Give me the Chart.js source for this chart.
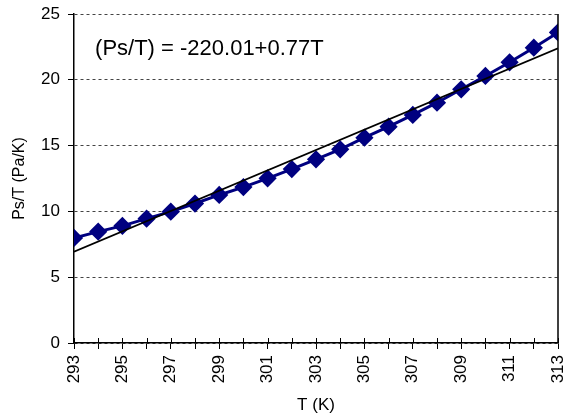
<!DOCTYPE html>
<html>
<head>
<meta charset="utf-8">
<script src="https://cdn.jsdelivr.net/npm/chart.js@4"></script>
<style>
  html, body { margin: 0; padding: 0; background: #fff; }
  #wrap { width: 571px; height: 418px; }
</style>
</head>
<body>
<div id="wrap"><canvas id="chart"></canvas></div>
<script>
// temperatures (K)
const temps = [293, 294, 295, 296, 297, 298, 299, 300, 301, 302, 303,
               304, 305, 306, 307, 308, 309, 310, 311, 312, 313];
// measured Ps/T (Pa/K)
const psOverT = [7.98, 8.46, 8.9, 9.45, 9.98, 10.6, 11.25, 11.85, 12.51, 13.22, 13.96,
                 14.72, 15.6, 16.44, 17.33, 18.26, 19.28, 20.29, 21.33, 22.44, 23.6];
// linear fit endpoints
const fitT = [293, 313];
const fitY = [6.94, 22.39];
const fitLabel = '(Ps/T) = -220.01+0.77T';

const FONT = "'Liberation Sans', Arial, sans-serif";

// right frame line, inward half of x ticks and the equation text
const extras = {
  id: 'extras',
  afterDatasetsDraw(chart) {
    const { ctx, chartArea, scales } = chart;
    ctx.save();
    ctx.strokeStyle = '#000';
    ctx.lineWidth = 1.5;
    ctx.beginPath();
    ctx.moveTo(chartArea.right, chartArea.top);
    ctx.lineTo(chartArea.right, chartArea.bottom);
    ctx.stroke();
    ctx.lineWidth = 1;
    ctx.beginPath();
    temps.forEach(t => {
      const x = Math.round(scales.x.getPixelForValue(t)) + 0.5;
      ctx.moveTo(x, chartArea.bottom - 5);
      ctx.lineTo(x, chartArea.bottom);
    });
    ctx.stroke();
    ctx.fillStyle = '#000';
    ctx.font = '22px ' + FONT;
    ctx.textAlign = 'left';
    ctx.textBaseline = 'middle';
    ctx.fillText(fitLabel, scales.x.getPixelForValue(293.87), scales.y.getPixelForValue(22.34));
    ctx.restore();
  }
};

new Chart(document.getElementById('chart').getContext('2d'), {
  type: 'line',
  data: {
    datasets: [
      {
        label: 'Ps/T',
        data: temps.map((t, i) => ({ x: t, y: psOverT[i] })),
        borderColor: '#000080',
        backgroundColor: '#000080',
        borderWidth: 3,
        pointStyle: 'rectRot',
        pointRadius: 7,
        pointHoverRadius: 7,
        tension: 0,
        order: 2
      },
      {
        label: 'Fit',
        data: fitT.map((t, i) => ({ x: t, y: fitY[i] })),
        borderColor: '#000',
        borderWidth: 1.8,
        pointRadius: 0,
        tension: 0,
        order: 1
      }
    ]
  },
  options: {
    responsive: true,
    maintainAspectRatio: false,
    animation: false,
    layout: { padding: { top: 14, right: 13, bottom: 2, left: 0 } },
    plugins: {
      legend: { display: false },
      tooltip: { enabled: false }
    },
    scales: {
      x: {
        type: 'linear',
        min: 293,
        max: 313,
        afterFit(scale) {
          scale.height = 73;
          scale.paddingLeft = 0;
          scale.paddingRight = 0;
        },
        afterBuildTicks(scale) {
          scale.ticks = temps.map(t => ({ value: t }));
        },
        title: {
          display: true,
          text: 'T (K)',
          color: '#000',
          font: { family: FONT, size: 17 },
          padding: { top: 0, bottom: 0 }
        },
        border: { color: '#000', width: 1.5 },
        grid: { drawOnChartArea: false, color: '#000', tickLength: 6 },
        ticks: {
          autoSkip: false,
          minRotation: 90,
          maxRotation: 90,
          color: '#000',
          padding: 6,
          font: { family: FONT, size: 17 },
          callback: v => ((v - 293) % 2 === 0 ? String(v) : '')
        }
      },
      y: {
        min: 0,
        max: 25,
        afterFit(scale) {
          scale.width = 74;
          scale.paddingTop = 0;
          scale.paddingBottom = 0;
        },
        title: {
          display: true,
          text: 'Ps/T (Pa/K)',
          color: '#000',
          font: { family: FONT, size: 16 },
          padding: { top: 10, bottom: 0 }
        },
        border: { color: '#000', width: 1.5, dash: [3, 3] },
        grid: {
          color: '#444',
          tickColor: '#000',
          tickLength: 6,
          tickBorderDash: [],
          lineWidth: 1
        },
        ticks: {
          stepSize: 5,
          color: '#000',
          padding: 8,
          font: { family: FONT, size: 17 }
        }
      }
    }
  },
  plugins: [extras]
});
</script>
</body>
</html>
